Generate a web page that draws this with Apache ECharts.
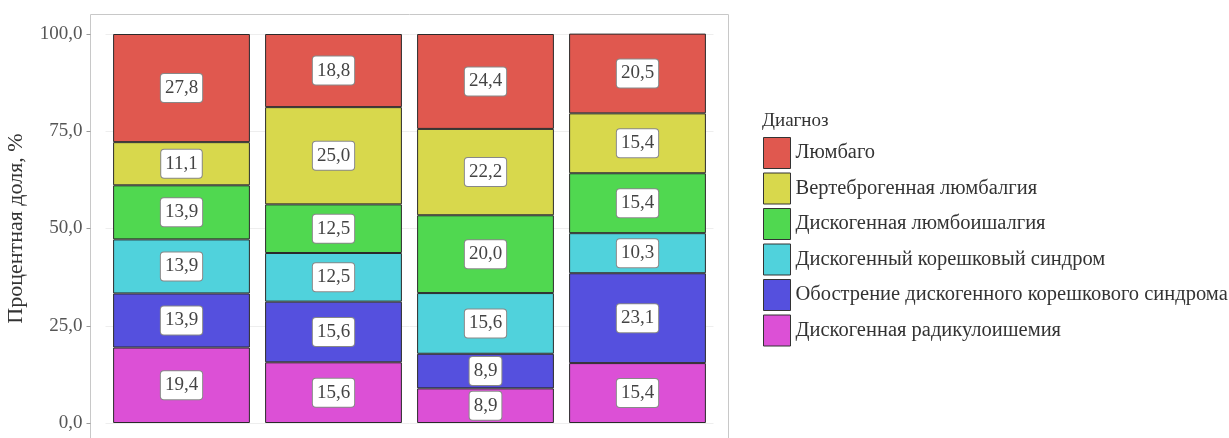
<!DOCTYPE html>
<html>
<head>
<meta charset="utf-8">
<script src="https://cdn.jsdelivr.net/npm/echarts@6/dist/echarts.min.js"></script>
<style>
  html, body { margin: 0; padding: 0; background: #fff; }
  #chart { width: 1229px; height: 438px; }
</style>
</head>
<body>
<div id="chart"></div>
<script>
// группы (подписи по оси X в оригинале обрезаны)
const categories = ["Группа 1", "Группа 2", "Группа 3", "Группа 4"];

// доли диагнозов, %, снизу вверх
const radiculoischemia = [19.4, 15.6, 8.9, 15.4];
const exacerbation = [13.9, 15.6, 8.9, 23.1];
const radicularSyndrome = [13.9, 12.5, 15.6, 10.3];
const lumboischialgia = [13.9, 12.5, 20.0, 15.4];
const lumbalgia = [11.1, 25.0, 22.2, 15.4];
const lumbago = [27.8, 18.8, 24.4, 20.5];

const yTicks = [0, 25, 50, 75, 100];

const seriesDefs = [
  { name: "Дискогенная радикулоишемия", data: radiculoischemia, color: "#dc50d6" },
  { name: "Обострение дискогенного корешкового синдрома", data: exacerbation, color: "#5550de" },
  { name: "Дискогенный корешковый синдром", data: radicularSyndrome, color: "#50d2dc" },
  { name: "Дискогенная люмбоишалгия", data: lumboischialgia, color: "#50d850" },
  { name: "Вертеброгенная люмбалгия", data: lumbalgia, color: "#d8d84c" },
  { name: "Люмбаго", data: lumbago, color: "#e0584f" }
];

const fmt = v => v.toFixed(1).replace(".", ",");
const font = "'Liberation Serif', 'DejaVu Serif', serif";

const chart = echarts.init(document.getElementById("chart"));

chart.setOption({
  animation: false,
  textStyle: { fontFamily: font },
  title: {
    text: "Диагноз",
    left: 762,
    top: 112,
    padding: 0,
    textStyle: { fontFamily: font, fontSize: 19, fontWeight: "normal", color: "#333" }
  },
  legend: {
    orient: "vertical",
    left: 763,
    top: 137,
    padding: 0,
    itemWidth: 27,
    itemHeight: 31,
    itemGap: 3.5,
    icon: "rect",
    data: seriesDefs.map(s => s.name).reverse(),
    itemStyle: { borderColor: "#333", borderWidth: 1 },
    textStyle: { fontFamily: font, fontSize: 20.5, color: "#333" }
  },
  graphic: [{
    type: "rect",
    shape: { x: 90.5, y: 14.5, width: 638, height: 440 },
    style: { fill: "none", stroke: "#c8c8c8", lineWidth: 1 },
    z: -1,
    silent: true
  }],
  grid: { left: 105.5, right: 515.5, top: 34, bottom: 15 },
  xAxis: {
    type: "category",
    data: categories,
    axisLine: { show: false },
    axisTick: { show: false },
    axisLabel: { show: false }
  },
  yAxis: {
    type: "value",
    min: yTicks[0],
    max: yTicks[yTicks.length - 1],
    interval: 25,
    offset: 15,
    name: "Процентная доля, %",
    nameLocation: "middle",
    nameRotate: 90,
    nameGap: 63,
    nameTextStyle: { fontFamily: font, fontSize: 22, color: "#333" },
    axisLine: { show: false },
    axisTick: { show: true, length: 4, lineStyle: { color: "#999" } },
    axisLabel: {
      margin: 8,
      fontFamily: font,
      fontSize: 19,
      color: "#555",
      formatter: v => fmt(v)
    },
    splitLine: { lineStyle: { color: "#eeeeee" } }
  },
  series: seriesDefs.map(s => ({
    name: s.name,
    type: "bar",
    stack: "total",
    data: s.data,
    barCategoryGap: "10%",
    itemStyle: { color: s.color, borderColor: "#2a2a2a", borderWidth: 1 },
    label: {
      show: true,
      position: "inside",
      formatter: p => fmt(p.value),
      fontFamily: font,
      fontSize: 19,
      color: "#444",
      backgroundColor: "#fff",
      borderColor: "#888",
      borderWidth: 1,
      borderRadius: 3,
      padding: [5, 4, 4, 4]
    }
  }))
});
</script>
</body>
</html>
